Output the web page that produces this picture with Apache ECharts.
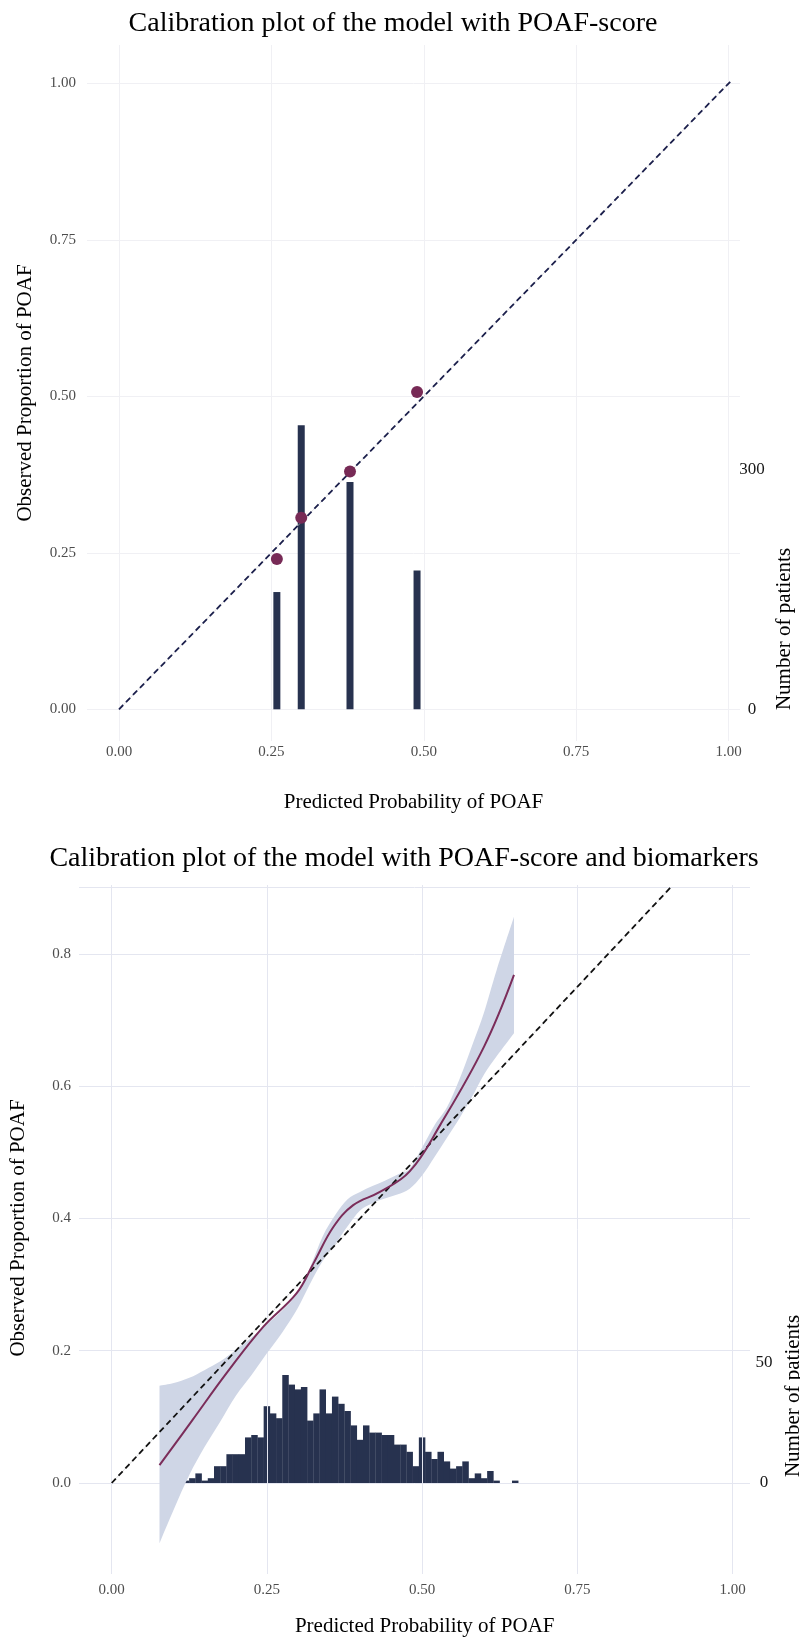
<!DOCTYPE html>
<html>
<head>
<meta charset="utf-8">
<title>Calibration plots</title>
<script src="https://cdn.jsdelivr.net/npm/echarts@6/dist/echarts.min.js"></script>
<style>
  html, body { margin: 0; padding: 0; background: #fff; }
  #chart { width: 800px; height: 1638px; }
</style>
</head>
<body>
<div id="chart"></div>
<script>
const FONT = "'Liberation Serif', 'Times New Roman', serif";

// top plot: model with POAF-score (grouped risk)
const topPredicted = [0.259, 0.299, 0.379, 0.489];
const topObserved = [0.240, 0.306, 0.380, 0.507];
const topPatients = [147, 356, 285, 174];
const topDiagonal = [0, 1.007];

// bottom plot: model with POAF-score and biomarkers
const histBins = [0.12, 0.13, 0.14, 0.15, 0.16, 0.17, 0.18, 0.19, 0.20, 0.21,
  0.22, 0.23, 0.24, 0.25, 0.26, 0.27, 0.28, 0.29, 0.30, 0.31,
  0.32, 0.33, 0.34, 0.35, 0.36, 0.37, 0.38, 0.39, 0.40, 0.41,
  0.42, 0.43, 0.44, 0.45, 0.46, 0.47, 0.48, 0.49, 0.50, 0.51,
  0.52, 0.53, 0.54, 0.55, 0.56, 0.57, 0.58, 0.59, 0.60, 0.61,
  0.62, 0.63, 0.64, 0.65];
const histPatients = [1, 2, 4, 1, 2, 7, 7, 12, 12, 12,
  19, 20, 19, 32, 29, 27, 45, 41, 39, 40,
  26, 29, 39, 29, 36, 33, 30, 24, 18, 24,
  21, 21, 20, 20, 16, 16, 13, 7, 19, 13,
  10, 13, 9, 6, 7, 9, 2, 4, 2, 5,
  1, 0, 0, 1];

const curvePredicted = [0.077, 0.130, 0.185, 0.244, 0.298, 0.325, 0.357, 0.389, 0.432, 0.480,
  0.529, 0.600, 0.648];
const curveObserved = [0.027, 0.095, 0.166, 0.236, 0.287, 0.332, 0.387, 0.420, 0.440, 0.471,
  0.541, 0.660, 0.768];

const bandPredicted = [0.077, 0.10, 0.125, 0.15, 0.175, 0.20, 0.225, 0.25, 0.275, 0.30,
  0.32, 0.34, 0.36, 0.38, 0.40, 0.42, 0.44, 0.46, 0.48, 0.50,
  0.52, 0.54, 0.56, 0.58, 0.60, 0.62, 0.648];
const bandLower = [-0.091, -0.040, 0.012, 0.055, 0.093, 0.132, 0.163, 0.196, 0.228, 0.265,
  0.302, 0.336, 0.361, 0.388, 0.412, 0.423, 0.430, 0.436, 0.445, 0.465,
  0.493, 0.522, 0.551, 0.583, 0.618, 0.645, 0.680];
const bandUpper = [0.147, 0.151, 0.159, 0.171, 0.184, 0.201, 0.220, 0.240, 0.261, 0.288,
  0.327, 0.373, 0.405, 0.429, 0.440, 0.449, 0.457, 0.466, 0.475, 0.507,
  0.541, 0.568, 0.610, 0.660, 0.712, 0.775, 0.856];
const bottomDiagonal = [0, 0.9];

// pixel layout of the two panels
const T = { left: 119, width: 609.5, top: 83.5, height: 625.8, panelL: 87, panelR: 740, panelT: 45, panelB: 741 };
const B = { left: 111.7, width: 620.8, top: 821.5, height: 661.5, panelL: 79, panelR: 750, panelT: 885, panelB: 1574 };

const chart = echarts.init(document.getElementById('chart'));

function hiddenAxis(gridIndex, extra) {
  return Object.assign({ type: 'value', gridIndex: gridIndex, show: false, min: 0, max: 1 }, extra || {});
}

// smooth path through pixel points (catmull-rom -> cubic bezier)
function smoothSegment(pts, moveFirst) {
  let d = (moveFirst ? 'M' : 'L') + pts[0][0] + ',' + pts[0][1];
  for (let i = 0; i < pts.length - 1; i++) {
    const p0 = pts[Math.max(i - 1, 0)], p1 = pts[i], p2 = pts[i + 1], p3 = pts[Math.min(i + 2, pts.length - 1)];
    const c1 = [p1[0] + (p2[0] - p0[0]) / 6, p1[1] + (p2[1] - p0[1]) / 6];
    const c2 = [p2[0] - (p3[0] - p1[0]) / 6, p2[1] - (p3[1] - p1[1]) / 6];
    d += 'C' + c1[0] + ',' + c1[1] + ' ' + c2[0] + ',' + c2[1] + ' ' + p2[0] + ',' + p2[1];
  }
  return d;
}

const tickText = { color: '#4d4d4d', fontSize: 15, fontFamily: FONT };
const rightText = { color: '#1a1a1a', fontSize: 17, fontFamily: FONT };

const option = {
  animation: false,
  backgroundColor: '#fff',
  grid: [
    { left: T.panelL, top: T.top, width: T.panelR - T.panelL, height: T.height },
    { left: T.left, top: T.panelT, width: T.width, height: T.panelB - T.panelT },
    { left: T.left, top: T.top, width: T.width, height: T.height },
    { left: B.panelL, top: B.top + B.height * 0.1, width: B.panelR - B.panelL, height: B.height * 0.9 },
    { left: B.left, top: B.panelT, width: B.width, height: B.panelB - B.panelT },
    { left: B.left, top: B.top, width: B.width, height: B.height }
  ],
  xAxis: [
    hiddenAxis(0),
    {
      type: 'value', gridIndex: 1, min: 0, max: 1, interval: 0.25,
      axisLine: { show: false }, axisTick: { show: false },
      axisLabel: Object.assign({ margin: 4, formatter: v => v.toFixed(2) }, tickText),
      splitLine: { show: true, lineStyle: { color: '#f0f0f4', width: 1 } }
    },
    hiddenAxis(2),
    hiddenAxis(3),
    {
      type: 'value', gridIndex: 4, min: 0, max: 1, interval: 0.25, z: 2,
      axisLine: { show: false }, axisTick: { show: false },
      axisLabel: Object.assign({ margin: 9, formatter: v => v.toFixed(2) }, tickText),
      splitLine: { show: true, lineStyle: { color: '#e4e6f0', width: 1 } }
    },
    hiddenAxis(5)
  ],
  yAxis: [
    {
      type: 'value', gridIndex: 0, min: 0, max: 1, interval: 0.25,
      axisLine: { show: false }, axisTick: { show: false },
      axisLabel: Object.assign({ margin: 11, formatter: v => v.toFixed(2) }, tickText),
      splitLine: { show: true, lineStyle: { color: '#f0f0f4', width: 1 } }
    },
    hiddenAxis(1),
    hiddenAxis(2),
    {
      type: 'value', gridIndex: 2, position: 'right', min: 0, max: T.height / 0.7977, interval: 300,
      axisLine: { show: false }, axisTick: { show: false }, splitLine: { show: false },
      axisLabel: Object.assign({ margin: 23.5, align: 'center',
        formatter: v => (v === 0 || v === 300) ? String(v) : '' }, rightText)
    },
    {
      type: 'value', gridIndex: 3, min: 0, max: 0.9, interval: 0.2,
      axisLine: { show: false }, axisTick: { show: false },
      axisLabel: Object.assign({ margin: 8, formatter: v => v > 0.85 ? '' : v.toFixed(1) }, tickText),
      splitLine: { show: true, lineStyle: { color: '#e4e6f0', width: 1 } }
    },
    hiddenAxis(4),
    hiddenAxis(5),
    {
      type: 'value', gridIndex: 5, position: 'right', min: 0, max: B.height / 2.4, interval: 50,
      axisLine: { show: false }, axisTick: { show: false }, splitLine: { show: false },
      axisLabel: Object.assign({ margin: 31.5, align: 'center',
        formatter: v => (v === 0 || v === 50) ? String(v) : '' }, rightText)
    }
  ],
  series: [
    // ---------- top ----------
    {
      type: 'bar', xAxisIndex: 2, yAxisIndex: 3, z: 2, barWidth: 7, silent: true,
      itemStyle: { color: '#27324f' },
      data: topPredicted.map((x, i) => [x, topPatients[i]])
    },
    {
      type: 'line', xAxisIndex: 2, yAxisIndex: 2, z: 3, symbol: 'none', clip: false, silent: true,
      lineStyle: { color: '#c9c9cf', width: 0.6 },
      data: topDiagonal.map(v => [v, v])
    },
    {
      type: 'line', xAxisIndex: 2, yAxisIndex: 2, z: 3, symbol: 'none', clip: false, silent: true,
      lineStyle: { color: '#1b1f4b', width: 1.8, type: [6, 4] },
      data: topDiagonal.map(v => [v, v])
    },
    {
      type: 'scatter', xAxisIndex: 2, yAxisIndex: 2, z: 4, symbolSize: 12, silent: true,
      itemStyle: { color: '#772a56', opacity: 1 },
      data: topPredicted.map((x, i) => [x, topObserved[i]])
    },
    // ---------- bottom ----------
    {
      type: 'bar', xAxisIndex: 5, yAxisIndex: 7, z: 1, barWidth: 6.5, silent: true,
      itemStyle: { color: '#27324f' },
      data: histBins.map((x, i) => [x, histPatients[i]])
    },
    {
      // confidence band of the smoothed calibration curve
      type: 'custom', xAxisIndex: 5, yAxisIndex: 6, z: 3, clip: false, silent: true,
      data: [[0.5, 0.5]],
      renderItem: function (params, api) {
        const up = bandPredicted.map((x, i) => api.coord([x, bandUpper[i]]));
        const lo = bandPredicted.map((x, i) => api.coord([x, bandLower[i]])).reverse();
        const d = smoothSegment(up, true) + smoothSegment(lo, false) + 'Z';
        return { type: 'path', shape: { pathData: d }, style: { fill: '#cfd6e6' } };
      }
    },
    {
      type: 'line', xAxisIndex: 5, yAxisIndex: 6, z: 4, symbol: 'none', clip: false, silent: true,
      lineStyle: { color: '#c4c4c8', width: 0.6 },
      data: bottomDiagonal.map(v => [v, v])
    },
    {
      type: 'line', xAxisIndex: 5, yAxisIndex: 6, z: 4, symbol: 'none', clip: false, silent: true,
      lineStyle: { color: '#111', width: 1.8, type: [6, 4] },
      data: bottomDiagonal.map(v => [v, v])
    },
    {
      type: 'line', xAxisIndex: 5, yAxisIndex: 6, z: 5, symbol: 'none', clip: false, silent: true,
      smooth: 0.4,
      lineStyle: { color: '#7b2d5a', width: 2 },
      data: curvePredicted.map((x, i) => [x, curveObserved[i]])
    }
  ],
  graphic: [
    { type: 'text', x: 393, y: 24, style: { text: 'Calibration plot of the model with POAF-score',
      fontSize: 28, fontFamily: FONT, fill: '#000', align: 'center', verticalAlign: 'middle' } },
    { type: 'text', x: 413.5, y: 802, style: { text: 'Predicted Probability of POAF',
      fontSize: 21, fontFamily: FONT, fill: '#000', align: 'center', verticalAlign: 'middle' } },
    { type: 'text', x: 25, y: 393, rotation: Math.PI / 2, style: { text: 'Observed Proportion of POAF',
      fontSize: 21, fontFamily: FONT, fill: '#000', align: 'center', verticalAlign: 'middle' } },
    { type: 'text', x: 784, y: 629, rotation: Math.PI / 2, style: { text: 'Number of patients',
      fontSize: 21, fontFamily: FONT, fill: '#000', align: 'center', verticalAlign: 'middle' } },

    { type: 'text', x: 404, y: 859, style: { text: 'Calibration plot of the model with POAF-score and biomarkers',
      fontSize: 28, fontFamily: FONT, fill: '#000', align: 'center', verticalAlign: 'middle' } },
    { type: 'text', x: 424.7, y: 1626, style: { text: 'Predicted Probability of POAF',
      fontSize: 21, fontFamily: FONT, fill: '#000', align: 'center', verticalAlign: 'middle' } },
    { type: 'text', x: 18, y: 1228, rotation: Math.PI / 2, style: { text: 'Observed Proportion of POAF',
      fontSize: 21, fontFamily: FONT, fill: '#000', align: 'center', verticalAlign: 'middle' } },
    { type: 'text', x: 793, y: 1396, rotation: Math.PI / 2, style: { text: 'Number of patients',
      fontSize: 21, fontFamily: FONT, fill: '#000', align: 'center', verticalAlign: 'middle' } }
  ]
};

chart.setOption(option);
</script>
</body>
</html>
